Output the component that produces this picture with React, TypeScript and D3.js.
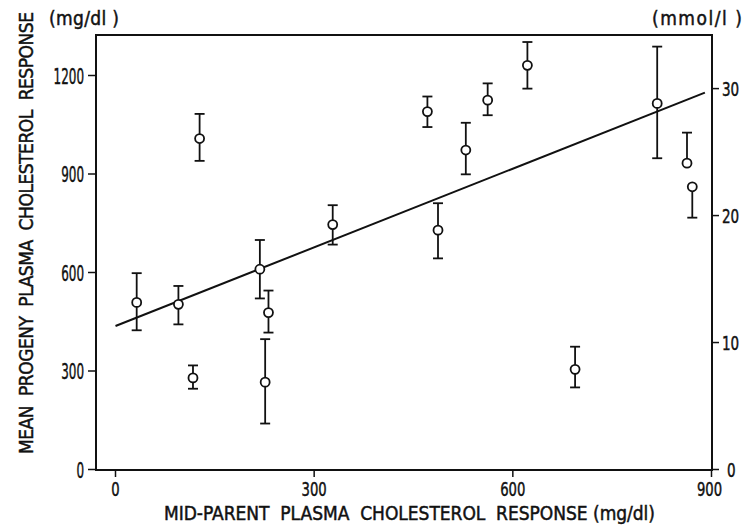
import React from "react";
import * as d3 from "d3";

const parentResponse = [32, 95, 117, 218, 231, 226, 127, 328, 471, 487, 529, 562, 622, 818, 863, 871, 694];
const progenyResponse = [509, 503, 279, 610, 478, 266, 1008, 746, 1090, 729, 973, 1125, 1231, 1115, 933, 861, 305];
const errUpper: (number | null)[] = [598, 559, 317, 699, 545, 397, 1083, 805, 1136, 811, 1056, 1176, 1302, 1288, 1026, null, 374];
const errLower: (number | null)[] = [424, 442, 246, 521, 417, 140, 940, 685, 1043, 643, 899, 1079, 1160, 948, null, 767, 250];

const regressionX = [0, 890];
const regressionY = [437, 1148];

const xTicks = [0, 300, 600, 900];
const yTicks = [0, 300, 600, 900, 1200];
const y2Ticks = [0, 10, 20, 30];
const MGDL_PER_MMOL = 38.67;

const FONT = "'DejaVu Sans Condensed', 'DejaVu Sans', sans-serif";
const pre: React.CSSProperties = { whiteSpace: "pre" };
const INK = "#111";
const TS = 0.45;

export default function App() {
  const W = 746, H = 528;
  const left = 96, right = 712, top = 35, bottom = 470;
  const x = d3.scaleLinear().domain([0, 900]).range([115.5, 711.5]);
  const y = d3.scaleLinear().domain([0, 1200]).range([469.5, 75.5]);
  const y2 = d3.scaleLinear().domain([0, 1200 / MGDL_PER_MMOL]).range([469.5, 75.5]);
  const line = d3.line<number>().x((_, i) => x(regressionX[i])).y((_, i) => y(regressionY[i]));
  const cw = 5;
  const txt = { fontFamily: FONT, fill: INK, stroke: INK, strokeWidth: TS };
  return (
    <svg width={W} height={H} style={{ position: "absolute", left: 0, top: 0, background: "#fff" }}>
      <rect x={0} y={0} width={W} height={H} fill="#fff" />
      <rect x={left} y={top} width={right - left} height={bottom - top} fill="none" stroke={INK} strokeWidth={2} />
      {/* left axis */}
      {yTicks.map((t) => (
        <g key={"yl" + t}>
          <line x1={left - 8} x2={left} y1={y(t)} y2={y(t)} stroke={INK} strokeWidth={1.5} />
          <text x={84} y={y(t) + 8} textAnchor="end" fontSize={22} {...txt}
            textLength={String(t).length * 7.6} lengthAdjust="spacingAndGlyphs">{t}</text>
        </g>
      ))}
      {/* right axis */}
      {y2Ticks.map((t) => (
        <g key={"yr" + t}>
          <line x1={right} x2={right + 7} y1={y2(t)} y2={y2(t)} stroke={INK} strokeWidth={1.5} />
          <text x={t === 0 ? 727 : 722} y={y2(t) + 7} textAnchor="start" fontSize={20} {...txt}
            textLength={String(t).length * 8.6} lengthAdjust="spacingAndGlyphs">{t}</text>
        </g>
      ))}
      {/* bottom axis */}
      {xTicks.map((t) => (
        <g key={"xb" + t}>
          <line x1={x(t)} x2={x(t)} y1={bottom} y2={bottom + 7} stroke={INK} strokeWidth={1.5} />
          <text x={x(t) - (t === 900 ? 2 : 0)} y={496} textAnchor="middle" fontSize={20} {...txt}
            textLength={String(t).length * 8.4} lengthAdjust="spacingAndGlyphs">{t}</text>
        </g>
      ))}
      {/* regression line */}
      <path d={line(regressionX) || ""} fill="none" stroke={INK} strokeWidth={2} />
      {/* error bars and points */}
      {parentResponse.map((px, i) => {
        const cx = x(px), cy = y(progenyResponse[i]);
        const u = errUpper[i], l = errLower[i];
        return (
          <g key={"p" + i}>
            {u !== null && (
              <g>
                <line x1={cx} x2={cx} y1={cy} y2={y(u)} stroke={INK} strokeWidth={1.8} />
                <line x1={cx - cw} x2={cx + cw} y1={y(u)} y2={y(u)} stroke={INK} strokeWidth={1.8} />
              </g>
            )}
            {l !== null && (
              <g>
                <line x1={cx} x2={cx} y1={cy} y2={y(l)} stroke={INK} strokeWidth={1.8} />
                <line x1={cx - cw} x2={cx + cw} y1={y(l)} y2={y(l)} stroke={INK} strokeWidth={1.8} />
              </g>
            )}
            <circle cx={cx} cy={cy} r={4.5} fill="#fff" stroke={INK} strokeWidth={1.8} />
          </g>
        );
      })}
      {/* units */}
      <text x={49} y={25} fontSize={19} {...txt} style={pre} textLength={70} lengthAdjust="spacing">(mg/dl )</text>
      <text x={652} y={25} fontSize={19} {...txt} style={pre} textLength={90} lengthAdjust="spacing">(mmol/l )</text>
      {/* axis titles */}
      <text x={164} y={520} fontSize={19} {...txt} style={pre} textLength={491} lengthAdjust="spacing">MID-PARENT  PLASMA  CHOLESTEROL  RESPONSE (mg/dl)</text>
      <text transform="translate(32.5,454) rotate(-90)" x={0} y={0} fontSize={19} {...txt} style={pre} textLength={442} lengthAdjust="spacing">MEAN  PROGENY  PLASMA  CHOLESTEROL  RESPONSE</text>
    </svg>
  );
}
